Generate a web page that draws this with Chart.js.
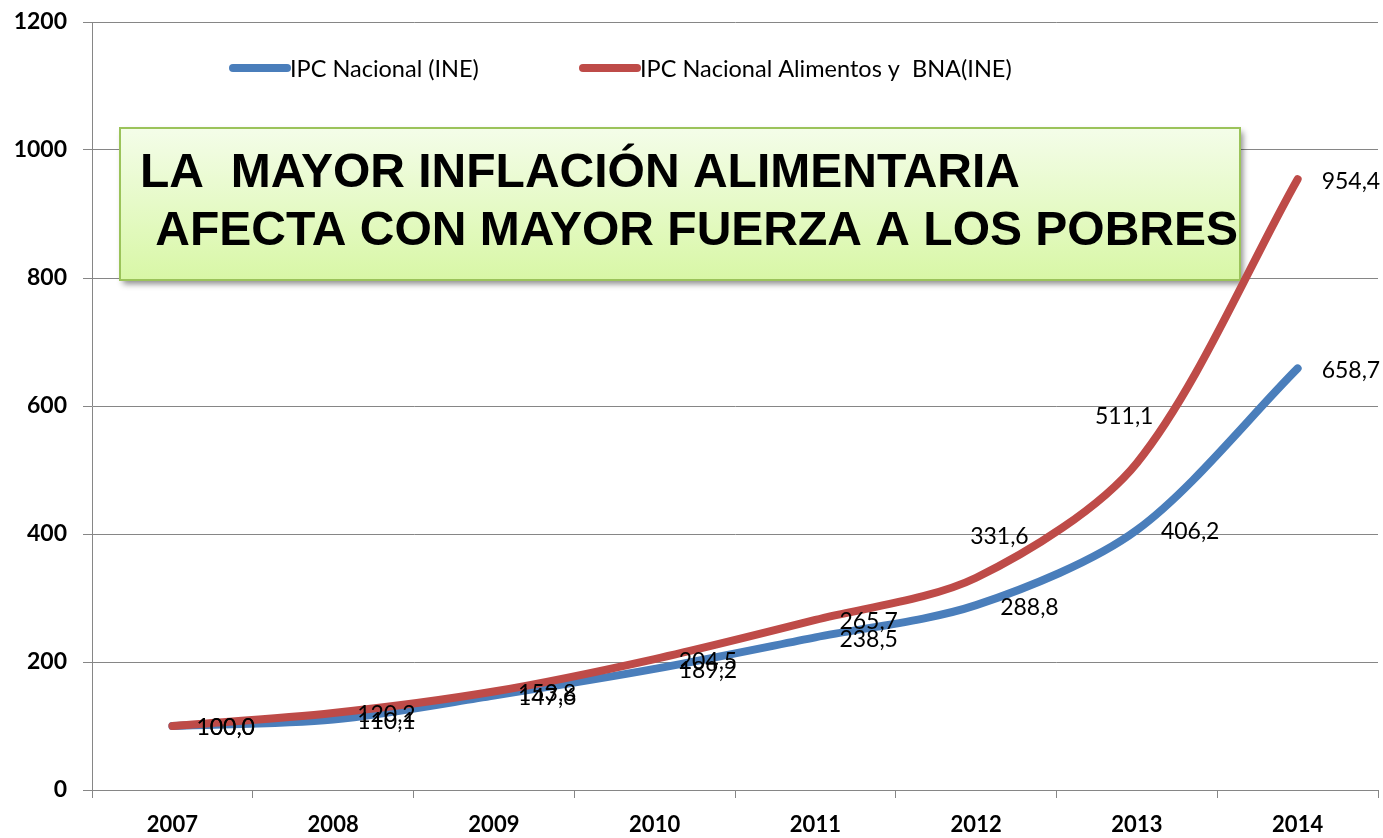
<!DOCTYPE html>
<html>
<head>
<meta charset="utf-8">
<script src="https://cdn.jsdelivr.net/npm/chart.js@4.4.1/dist/chart.umd.min.js"></script>
<style>
  html, body { margin: 0; padding: 0; background: #fff; }
  #wrap { width: 1383px; height: 838px; }
</style>
</head>
<body>
<div id="wrap"><canvas id="ipc" width="1383" height="838"></canvas></div>
<script>
"use strict";

// Datos
var years = ["2007", "2008", "2009", "2010", "2011", "2012", "2013", "2014"];
var ipcNacional = [100.0, 110.1, 147.6, 189.2, 238.5, 288.8, 406.2, 658.7];
var ipcAlimentos = [100.0, 120.2, 153.8, 204.5, 265.7, 331.6, 511.1, 954.4];
var yTicks = [0, 200, 400, 600, 800, 1000, 1200];
var titleLines = ["LA  MAYOR INFLACIÓN ALIMENTARIA", " AFECTA CON MAYOR FUERZA A LOS POBRES"];

var BLUE = "#4a7ebb";
var RED = "#be4b48";

// etiquetas de valores (formato con coma)
var valueLabels = {
    id: "valueLabels",
    afterDatasetsDraw: function (chart) {
        var ctx = chart.ctx;
        ctx.save();
        ctx.font = "23px Lato";
        ctx.fillStyle = "#000";
        ctx.textBaseline = "middle";
        ctx.textAlign = "left";
        chart.data.datasets.forEach(function (ds, i) {
            var meta = chart.getDatasetMeta(i);
            meta.data.forEach(function (pt, j) {
                var off = (ds.labelOffsets && ds.labelOffsets[j]) || [24, 2];
                ctx.fillText(ds.data[j].toFixed(1).replace(".", ","), pt.x + off[0], pt.y + off[1]);
            });
        });
        ctx.restore();
    }
};

// cuadro verde con el titular
var titleBox = {
    id: "titleBox",
    beforeDatasetsDraw: function (chart) {
        var ctx = chart.ctx;
        var x = 120, y = 128, w = 1120, h = 152;
        ctx.save();
        ctx.shadowColor = "rgba(0,0,0,0.45)";
        ctx.shadowBlur = 6;
        ctx.shadowOffsetX = 3;
        ctx.shadowOffsetY = 4;
        var g = ctx.createLinearGradient(0, y, 0, y + h);
        g.addColorStop(0, "#f4fde9");
        g.addColorStop(1, "#d8f7a6");
        ctx.fillStyle = g;
        ctx.fillRect(x, y, w, h);
        ctx.shadowColor = "transparent";
        ctx.strokeStyle = "#9bc35a";
        ctx.lineWidth = 2;
        ctx.strokeRect(x, y, w, h);
        ctx.fillStyle = "#000";
        ctx.font = "bold 48px 'Liberation Sans', Arial";
        ctx.textBaseline = "alphabetic";
        ctx.fillText(titleLines[0], 140, 187);
        ctx.fillText(titleLines[1], 142, 245);
        ctx.restore();
    }
};

// leyenda dentro del grafico
var lineLegend = {
    id: "lineLegend",
    afterDraw: function (chart) {
        var ctx = chart.ctx;
        var starts = [233, 583];
        ctx.save();
        ctx.font = "23.5px Lato";
        ctx.textBaseline = "middle";
        chart.data.datasets.forEach(function (ds, i) {
            var x = starts[i];
            ctx.strokeStyle = ds.borderColor;
            ctx.lineWidth = 8;
            ctx.lineCap = "round";
            ctx.beginPath();
            ctx.moveTo(x, 68);
            ctx.lineTo(x + 54, 68);
            ctx.stroke();
            ctx.fillStyle = "#000";
            ctx.fillText(ds.label, x + 57, 69);
        });
        ctx.restore();
    }
};

var ctx = document.getElementById("ipc").getContext("2d");
var chart = new Chart(ctx, {
    type: "line",
    data: {
        labels: years,
        datasets: [{
                label: "IPC Nacional (INE)",
                data: ipcNacional,
                borderColor: BLUE,
                backgroundColor: BLUE,
                order: 1
            },
            {
                label: "IPC Nacional Alimentos y  BNA(INE)",
                data: ipcAlimentos,
                borderColor: RED,
                backgroundColor: RED,
                order: 0,
                labelOffsets: [null, null, null, null, null, [-6, -41], [-42, -46], null]
            }
        ]
    },
    options: {
        responsive: false,
        animation: false,
        layout: { padding: { top: 22, right: 5, left: 0, bottom: 0 } },
        elements: {
            line: { borderWidth: 8, tension: 0.3, borderCapStyle: "round", borderJoinStyle: "round", fill: false },
            point: { radius: 0, hoverRadius: 0 }
        },
        plugins: {
            legend: { display: false },
            tooltip: { enabled: false }
        },
        scales: {
            x: {
                offset: true,
                grid: { display: true, drawOnChartArea: false, offset: true, tickLength: 8, color: "#868686" },
                border: { color: "#868686" },
                ticks: { color: "#000", font: { family: "Lato", size: 22, weight: "bold" }, padding: 14 },
                afterFit: function (scale) { scale.height = 48; }
            },
            y: {
                min: 0,
                max: 1200,
                afterBuildTicks: function (scale) {
                    scale.ticks = yTicks.map(function (v) { return { value: v }; });
                },
                grid: { color: "#868686", tickLength: 9 },
                border: { color: "#868686" },
                ticks: {
                    color: "#000",
                    font: { family: "Lato", size: 23, weight: "bold" },
                    padding: 16,
                    callback: function (v) { return String(v); }
                },
                afterFit: function (scale) {
                    scale.width = 92;
                    scale.paddingTop = 0;
                    scale.paddingBottom = 0;
                }
            }
        }
    },
    plugins: [titleBox, valueLabels, lineLegend]
});
</script>
</body>
</html>
